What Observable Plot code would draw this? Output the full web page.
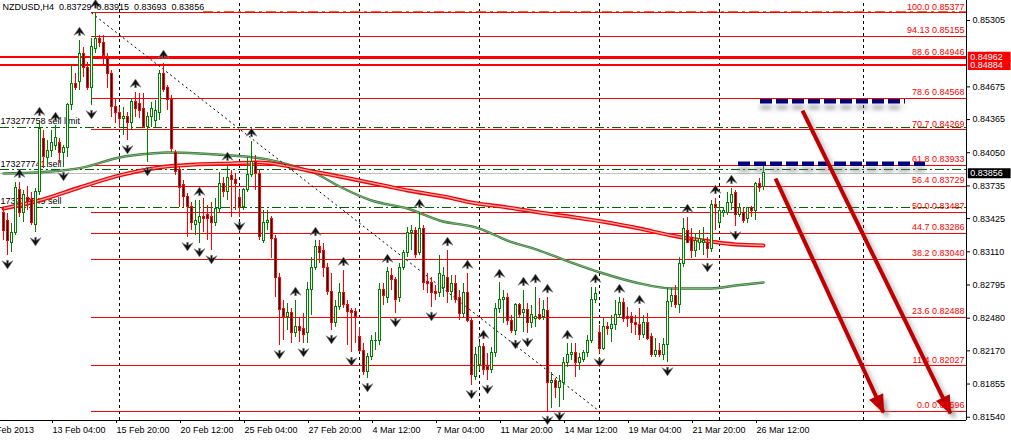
<!DOCTYPE html>
<html>
<head>
<meta charset="utf-8">
<script src="https://cdn.jsdelivr.net/npm/d3@7"></script>
<script src="https://cdn.jsdelivr.net/npm/@observablehq/plot@0.6"></script>
<style>
  html, body { margin: 0; padding: 0; background: #ffffff; }
  #chart svg { display: block; }
</style>
</head>
<body>
<div id="chart"></div>
<script>
// ---------- DATA ----------
const symbolName = "NZDUSD,H4";
const lastOHLC = [0.83729, 0.83915, 0.83693, 0.83856];

const opens = [
.83474,.83407,.83198,.83293,.83692,.83483,.83616,.83597,.83360,.83673,
.84185,.83996,.84071,.84118,.84138,.84043,.84099,.84499,.84707,.84717,
.84992,.84859,.84669,.85030,.85125,.85096,.84945,.84802,.84480,.84432,
.84375,.84385,.84328,.84527,.84508,.84470,.84290,.84385,.84356,.84432,
.84802,.84660,.84546,.84052,.83882,.83740,.83626,.83531,.83360,.83388,
.83445,.83464,.83436,.83379,.83512,.83749,.83673,.83825,.83796,.83616,
.83531,.83692,.83835,.83958,.83853,.83217,.83379,.83426,.83236,.82866,
.82563,.82487,.82525,.82344,.82392,.82373,.82335,.82743,.82952,.83151,
.83113,.82961,.82724,.82439,.82582,.82715,.82601,.82544,.82534,.82297,
.82173,.81965,.82107,.82259,.82268,.82743,.82676,.82885,.82838,.82676,
.82961,.83094,.83284,.83303,.83094,.83331,.82819,.82810,.82724,.82715,
.82771,.82866,.82724,.82800,.82676,.82515,.82715,.82458,.81918,.82031,
.82202,.82012,.81984,.82154,.82563,.82648,.82676,.82458,.82363,.82601,
.82525,.82553,.82439,.82477,.82506,.82487,.82544,.81861,.81880,.81813,
.81861,.82050,.82126,.82145,.82050,.82079,.82145,.82268,.82648,.82344,
.82192,.82392,.82373,.82411,.82506,.82620,.82496,.82487,.82439,.82411,
.82316,.82430,.82297,.82126,.82173,.82135,.82221,.82629,.82686,.82601,
.82999,.83312,.83236,.83122,.83198,.83189,.83198,.83141,.83550,.83388,
.83474,.83483,.83569,.83664,.83464,.83483,.83426,.83521,.83493,.83758,
.83729];
const highs = [
.83531,.83474,.83379,.83768,.83768,.83692,.83730,.83673,.83711,.84356,
.84261,.84166,.84261,.84308,.84185,.84118,.84518,.84878,.84802,.85115,
.85049,.84907,.85134,.85377,.85163,.85163,.84992,.84831,.84565,.84480,
.84480,.84432,.84565,.84622,.84612,.84612,.84432,.84527,.84546,.84831,
.84897,.84688,.84593,.84071,.83911,.83787,.83664,.83578,.83597,.83597,
.83616,.83550,.83578,.83616,.83863,.83815,.83930,.83882,.83853,.83692,
.83711,.84005,.84157,.84024,.83882,.83502,.83502,.83445,.83265,.82904,
.82648,.82620,.82572,.82648,.82477,.82525,.82819,.83056,.83217,.83217,
.83189,.82999,.82904,.82648,.82810,.82933,.82648,.82572,.82572,.82392,
.82240,.82145,.82316,.82344,.82810,.82810,.82961,.82952,.82866,.82999,
.83122,.83341,.83360,.83341,.83483,.83360,.82904,.82866,.82790,.83075,
.82961,.83122,.82885,.82885,.82743,.82810,.82904,.82477,.82202,.82249,
.82240,.82145,.82202,.82620,.82819,.82743,.82715,.82506,.82620,.82620,
.82743,.82620,.82601,.82771,.82667,.82648,.82676,.81965,.81908,.81937,
.82107,.82240,.82240,.82240,.82145,.82173,.82316,.82771,.82771,.82411,
.82477,.82439,.82506,.82648,.82676,.82667,.82582,.82534,.82506,.82572,
.82506,.82525,.82335,.82287,.82240,.82287,.82762,.82762,.82790,.83056,
.83426,.83436,.83331,.83284,.83312,.83341,.83246,.83597,.83616,.83578,
.83531,.83673,.83711,.83692,.83569,.83531,.83531,.83540,.83768,.83806,
.83915];
const lows = [
.83217,.83075,.83103,.83265,.83436,.83388,.83502,.83360,.83293,.83645,
.83901,.83911,.84005,.84071,.83949,.83911,.84005,.84451,.84641,.84641,
.84764,.84641,.84499,.84992,.85049,.84878,.84660,.84385,.84328,.84290,
.84214,.84166,.84261,.84385,.84375,.84280,.83958,.84290,.84290,.84356,
.84622,.84451,.84052,.83835,.83531,.83531,.83246,.83312,.83265,.83189,
.83293,.83217,.83122,.83350,.83483,.83626,.83597,.83436,.83502,.83436,
.83502,.83673,.83815,.83692,.83217,.83189,.83312,.83046,.82676,.82221,
.82268,.82363,.82240,.82297,.82249,.82240,.82240,.82506,.82933,.82999,
.82866,.82696,.82363,.82392,.82553,.82572,.82221,.82154,.82240,.82154,
.81937,.81908,.82079,.82173,.82221,.82601,.82620,.82743,.82525,.82629,
.82933,.83056,.83122,.83046,.83075,.82743,.82715,.82582,.82648,.82676,
.82676,.82620,.82648,.82620,.82458,.82487,.82439,.81842,.81889,.81984,
.81937,.81889,.81956,.82107,.82525,.82430,.82411,.82335,.82316,.82477,
.82344,.82335,.82382,.82392,.82458,.82458,.81596,.81623,.81718,.81633,
.81699,.82012,.82079,.81918,.81984,.82060,.82107,.82240,.82620,.82145,
.82173,.82316,.82249,.82363,.82477,.82439,.82392,.82335,.82316,.82268,
.82287,.82268,.82107,.82107,.82107,.82079,.82060,.82582,.82572,.82525,
.82961,.83189,.83046,.83056,.83122,.83075,.83046,.83103,.83312,.83360,
.83436,.83455,.83502,.83350,.83436,.83379,.83379,.83436,.83407,.83673,
.83693];
const closes = [
.83312,.83217,.83284,.83711,.83483,.83645,.83578,.83379,.83673,.84280,
.84005,.84071,.84138,.84194,.84043,.84099,.84499,.84707,.84669,.84992,
.84859,.84669,.85049,.85125,.85096,.84973,.84802,.84480,.84432,.84375,
.84394,.84328,.84527,.84470,.84451,.84290,.84385,.84470,.84451,.84802,
.84641,.84546,.84090,.83863,.83720,.83626,.83531,.83379,.83398,.83436,
.83426,.83426,.83379,.83512,.83749,.83673,.83815,.83796,.83758,.83531,
.83692,.83835,.83958,.83853,.83246,.83388,.83407,.83236,.82866,.82553,
.82487,.82525,.82344,.82392,.82363,.82325,.82743,.82961,.83151,.83103,
.82961,.82724,.82439,.82582,.82715,.82601,.82534,.82525,.82487,.82173,
.81965,.82107,.82259,.82268,.82743,.82686,.82914,.82838,.82648,.82961,
.83094,.83293,.83303,.83075,.83331,.82810,.82800,.82715,.82705,.82904,
.82876,.82724,.82800,.82648,.82515,.82715,.82458,.81937,.82126,.82202,
.81984,.81984,.82154,.82563,.82657,.82667,.82458,.82363,.82601,.82506,
.82553,.82439,.82506,.82496,.82477,.82553,.81861,.81880,.81813,.81870,
.82050,.82126,.82154,.82050,.82098,.82145,.82268,.82648,.82705,.82192,
.82392,.82373,.82411,.82506,.82620,.82477,.82477,.82430,.82411,.82316,
.82430,.82287,.82126,.82173,.82135,.82221,.82629,.82686,.82601,.82999,
.83322,.83198,.83122,.83217,.83236,.83217,.83141,.83550,.83531,.83502,
.83502,.83569,.83645,.83464,.83521,.83407,.83521,.83502,.83758,.83720,
.83856];

// moving averages (bar index, value)
const maRedBars = [0,9,19,29,39,48,57,64,70,76,84,95,101,110,117,126,134,143,151,159,167,175,183,190];
const maRedVals = [.83521,.83597,.83720,.83835,.83911,.83939,.83949,.83958,.83930,.83882,.83825,.83740,.83692,.83635,.83578,.83531,.83483,.83436,.83389,.83331,.83265,.83217,.83180,.83170];
const maGreenBars = [0,12,20,29,37,41,49,57,66,72,78,84,92,101,109,119,126,134,142,150,158,167,177,183,190];
const maGreenVals = [.83853,.83872,.83911,.84005,.84043,.84052,.84043,.84024,.83987,.83930,.83853,.83730,.83597,.83521,.83407,.83331,.83217,.83122,.83008,.82904,.82819,.82762,.82762,.82790,.82819];

// Bill Williams fractals (bar indices)
const fractalUp = [4,9,13,19,23,33,40,49,56,62,73,78,85,96,104,111,116,120,124,130,133,136,141,148,154,159,171,178,182];
const fractalDown = [1,8,15,22,31,36,46,49,52,59,69,75,82,87,91,98,107,117,121,128,131,136,139,149,166,176,183];

// Fibonacci retracement
const fibNames = ["100.0","94.13","88.6","78.6","70.7","61.8","56.4","50.0","44.7","38.2","23.6","11.4","0.0"];
const fibLevels = [0.85377,0.85155,0.84946,0.84568,0.84269,0.83933,0.83729,0.83487,0.83286,0.83040,0.82488,0.82027,0.81596];
const fibStartBar = 22;
const fibTrendBars = [22, 149];
const fibTrendPrices = [0.85377, 0.81596];

// pending orders
const orderNames = ["173277758 sell limit", "173277741 sell", "173277749 sell"];
const orderPrices = [0.84290, 0.83888, 0.83535];

// horizontal lines
const hLinePrices = [0.84962, 0.84884];
const topLinePrice = 0.85391;
const topLineStartBar = 50;
const bidPrice = 0.83856;

// blue dashed zones
const zoneFromBar = [189.25, 183.75];
const zoneToBar = [225.5, 230.5];
const zonePrices = [0.84540, 0.83945];

// drawn arrows
const arrowFromBar = [193.0, 199.75];
const arrowFromPrice = [0.83806, 0.84451];
const arrowToBar = [220.0, 236.75];
const arrowToPrice = [0.81585, 0.81576];

// axes
const gridBars = [29, 59, 89, 119, 149, 179, 215];
const timeTickBars = [-4, 12, 28, 44, 60, 76, 92, 108, 124, 140, 156, 172, 188];
const timeTickLabels = ["8 Feb 2013","13 Feb 04:00","15 Feb 20:00","20 Feb 12:00","25 Feb 04:00","27 Feb 20:00","4 Mar 12:00","7 Mar 04:00","11 Mar 20:00","14 Mar 12:00","19 Mar 04:00","21 Mar 20:00","26 Mar 12:00"];
const priceTicks = [0.85305,0.84675,0.84365,0.84050,0.83735,0.83425,0.83110,0.82795,0.82480,0.82170,0.81855,0.81540];
const boxPrices = [0.84962, 0.84884, 0.83856];
const boxColors = ["#ff0000", "#ff0000", "#000000"];

const xDomain = [-0.75, 240.75];
const yDomain = [0.81509, 0.85495];

// ---------- BUILD ----------
const W = 1011, H = 442, mR = 45, mB = 22;
const candles = opens.map((o, i) => ({i, o, h: highs[i], l: lows[i], c: closes[i]}));
const isBull = d => d.c >= d.o;
const maRed = maRedBars.map((b, i) => ({b, v: maRedVals[i]}));
const maGreen = maGreenBars.map((b, i) => ({b, v: maGreenVals[i]}));
const fibs = fibLevels.map((v, i) => ({v, label: fibNames[i] + " " + v.toFixed(5)}));
const orders = orderPrices.map((v, i) => ({v, name: orderNames[i]}));
const zones = zonePrices.map((v, i) => ({v, x1: zoneFromBar[i], x2: zoneToBar[i]}));
// screen-space angle of each drawn arrow (same domain/range as the plot scales)
const sx = d3.scaleLinear(xDomain, [0, W - mR]);
const sy = d3.scaleLinear(yDomain, [H - mB, 0]);
const arrows = arrowFromBar.map((b, i) => {
  const dx = sx(arrowToBar[i]) - sx(b), dy = sy(arrowToPrice[i]) - sy(arrowFromPrice[i]);
  return {x1: b, y1: arrowFromPrice[i], x2: arrowToBar[i], y2: arrowToPrice[i], angle: Math.atan2(dx, -dy) * 180 / Math.PI};
});
const fibTrend = [{x1: fibTrendBars[0], y1: fibTrendPrices[0], x2: fibTrendBars[1], y2: fibTrendPrices[1]}];
const boxes = boxPrices.map((v, i) => ({v, color: boxColors[i]}));
const title = symbolName + "\u00a0\u00a0" + lastOHLC.map(v => v.toFixed(5)).join("\u00a0\u00a0");

const fractalUpSym = {draw(ctx) {
  ctx.moveTo(0, -4.5); ctx.lineTo(5.5, 3.8); ctx.lineTo(0.9, 1.2); ctx.lineTo(0.9, 4.2); ctx.lineTo(-0.9, 4.2);
  ctx.lineTo(-0.9, 1.2); ctx.lineTo(-5.5, 3.8); ctx.closePath(); }};
const fractalDownSym = {draw(ctx) {
  ctx.moveTo(0, 4.5); ctx.lineTo(5.5, -3.8); ctx.lineTo(0.9, -1.2); ctx.lineTo(0.9, -4.2); ctx.lineTo(-0.9, -4.2);
  ctx.lineTo(-0.9, -1.2); ctx.lineTo(-5.5, -3.8); ctx.closePath(); }};
const arrowHeadSym = {draw(ctx) { ctx.moveTo(0, 0); ctx.lineTo(7, 17); ctx.lineTo(-7, 17); ctx.closePath(); }};

const xR = xDomain[1];
const xL = xDomain[0];
const crisp = {shapeRendering: "crispEdges"};

const chart = Plot.plot({
  width: W, height: H,
  marginLeft: 0, marginRight: mR, marginTop: 0, marginBottom: mB,
  x: {domain: xDomain},
  y: {domain: yDomain},
  style: {fontFamily: "'Liberation Sans', Arial, sans-serif", fontSize: "9px", background: "#ffffff", color: "#000"},
  marks: [
    // vertical grid
    Plot.ruleX(gridBars, {x: d => d, y1: yDomain[0], y2: yDomain[1], stroke: "#000", strokeDasharray: "3,3", ...crisp}),
    // order lines and labels
    Plot.ruleY(orders, {y: "v", x1: xL, x2: xR, stroke: "#006400", strokeDasharray: "9,3,2,3", ...crisp}),
    Plot.text(orders, {x: xL, y: "v", text: "name", textAnchor: "start", dy: -6, fill: "#000"}),
    // top dash-dot line
    Plot.ruleY([topLinePrice], {y: d => d, x1: topLineStartBar, x2: xR, stroke: "#ff5a28", strokeDasharray: "10,4,3,4", ...crisp}),
    // fib lines
    Plot.ruleY(fibs, {y: "v", x1: fibStartBar, x2: xR, stroke: "#ff0000", ...crisp}),
    // thick horizontal lines
    Plot.ruleY(hLinePrices, {y: d => d, x1: xL, x2: xR, stroke: "#ff0000", strokeWidth: 2, ...crisp}),
    // bid line
    Plot.ruleY([bidPrice], {y: d => d, x1: xL, x2: xR, stroke: "#c0c0c0", ...crisp}),
    // moving averages
    Plot.line(maGreen, {x: "b", y: "v", stroke: "#2e7d2e", strokeWidth: 2.4, curve: "monotone-x"}),
    Plot.line(maGreen, {x: "b", y: "v", stroke: "#a9c4a9", strokeWidth: 0.7, curve: "monotone-x"}),
    Plot.line(maRed, {x: "b", y: "v", stroke: "#ff0000", strokeWidth: 4, curve: "monotone-x"}),
    Plot.line(maRed, {x: "b", y: "v", stroke: "#e7b4b4", strokeWidth: 1.3, curve: "monotone-x"}),
    // fib trend line
    Plot.link(fibTrend, {x1: "x1", y1: "y1", x2: "x2", y2: "y2", stroke: "#000", strokeDasharray: "2,3"}),
    // candles
    Plot.ruleX(candles, {x: "i", y1: "l", y2: "h", stroke: d => isBull(d) ? "#008000" : "#ff0000", ...crisp}),
    Plot.rect(candles, {x1: d => d.i - 0.25, x2: d => d.i + 0.25, y1: "o", y2: "c",
      fill: d => isBull(d) ? "#ffffff" : "#000000", stroke: d => isBull(d) ? "#008000" : "#ff0000", ...crisp}),
    // fractals
    Plot.dot(fractalUp, {x: d => d, y: d => highs[d], dy: -9, symbol: fractalUpSym, fill: "#111", stroke: "#888", strokeWidth: 0.6}),
    Plot.dot(fractalDown, {x: d => d, y: d => lows[d], dy: 9, symbol: fractalDownSym, fill: "#111", stroke: "#888", strokeWidth: 0.6}),
    // blue dashed zones (shadow + line)
    Plot.ruleY(zones, {y: "v", x1: "x1", x2: "x2", dy: 6, stroke: "#7a7a7a", strokeOpacity: 0.55, strokeWidth: 5, strokeDasharray: "12,4", ariaDescription: "shadow"}),
    Plot.ruleY(zones, {y: "v", x1: "x1", x2: "x2", stroke: "#00007a", strokeWidth: 4.5, strokeDasharray: "12,4"}),
    // drawn arrows (shadow + shaft + filled head)
    Plot.link(arrows, {x1: "x1", y1: "y1", x2: "x2", y2: "y2", dx: 4, dy: 4, stroke: "#808080", strokeOpacity: 0.5, strokeWidth: 4, ariaDescription: "shadow"}),
    Plot.dot(arrows, {x: "x2", y: "y2", dx: 4, dy: 4, rotate: "angle", symbol: arrowHeadSym, fill: "#808080", fillOpacity: 0.5, ariaDescription: "shadow"}),
    Plot.link(arrows, {x1: "x1", y1: "y1", x2: "x2", y2: "y2", stroke: "#c00000", strokeWidth: 4}),
    Plot.dot(arrows, {x: "x2", y: "y2", rotate: "angle", symbol: arrowHeadSym, fill: "#c00000", stroke: "#c00000", strokeWidth: 1}),
    // fib labels
    Plot.text(fibs, {x: xR - 0.5, y: "v", text: "label", textAnchor: "end", dy: -6, fill: "#ff0000"}),
    // title
    Plot.text([title], {frameAnchor: "top-left", text: d => d, dx: 2, dy: 3, lineAnchor: "top", textAnchor: "start", fill: "#000"}),
    // frame lines
    Plot.ruleX([xR], {x: d => d, y1: yDomain[0], y2: yDomain[1], stroke: "#000", ...crisp}),
    Plot.ruleY([yDomain[0]], {y: d => d, x1: xL, x2: xR, stroke: "#000", ...crisp}),
    // axes
    Plot.axisY({anchor: "right", ticks: priceTicks, tickFormat: d3.format(".5f"), tickSize: 3, tickPadding: 3, label: null}),
    Plot.axisX({ticks: timeTickBars, tickFormat: d => timeTickLabels[timeTickBars.indexOf(d)], tickSize: 3, tickPadding: 3, textAnchor: "start", dx: 1, label: null}),
    // price boxes on axis
    Plot.ruleY(boxes, {y: "v", x1: 241.2, x2: 251.9, stroke: "color", strokeWidth: 10}),
    Plot.text(boxes, {x: 241.7, y: "v", text: d => d.v.toFixed(5), textAnchor: "start", fill: "#ffffff"})
  ]
});

const svg = d3.select(chart);
svg.insert("defs", ":first-child").html('<filter id="shadowBlur" x="-20%" y="-20%" width="140%" height="140%"><feGaussianBlur stdDeviation="2"/></filter>');
svg.selectAll('[aria-description="shadow"]').attr("filter", "url(#shadowBlur)");
document.getElementById("chart").appendChild(chart);
</script>
</body>
</html>
